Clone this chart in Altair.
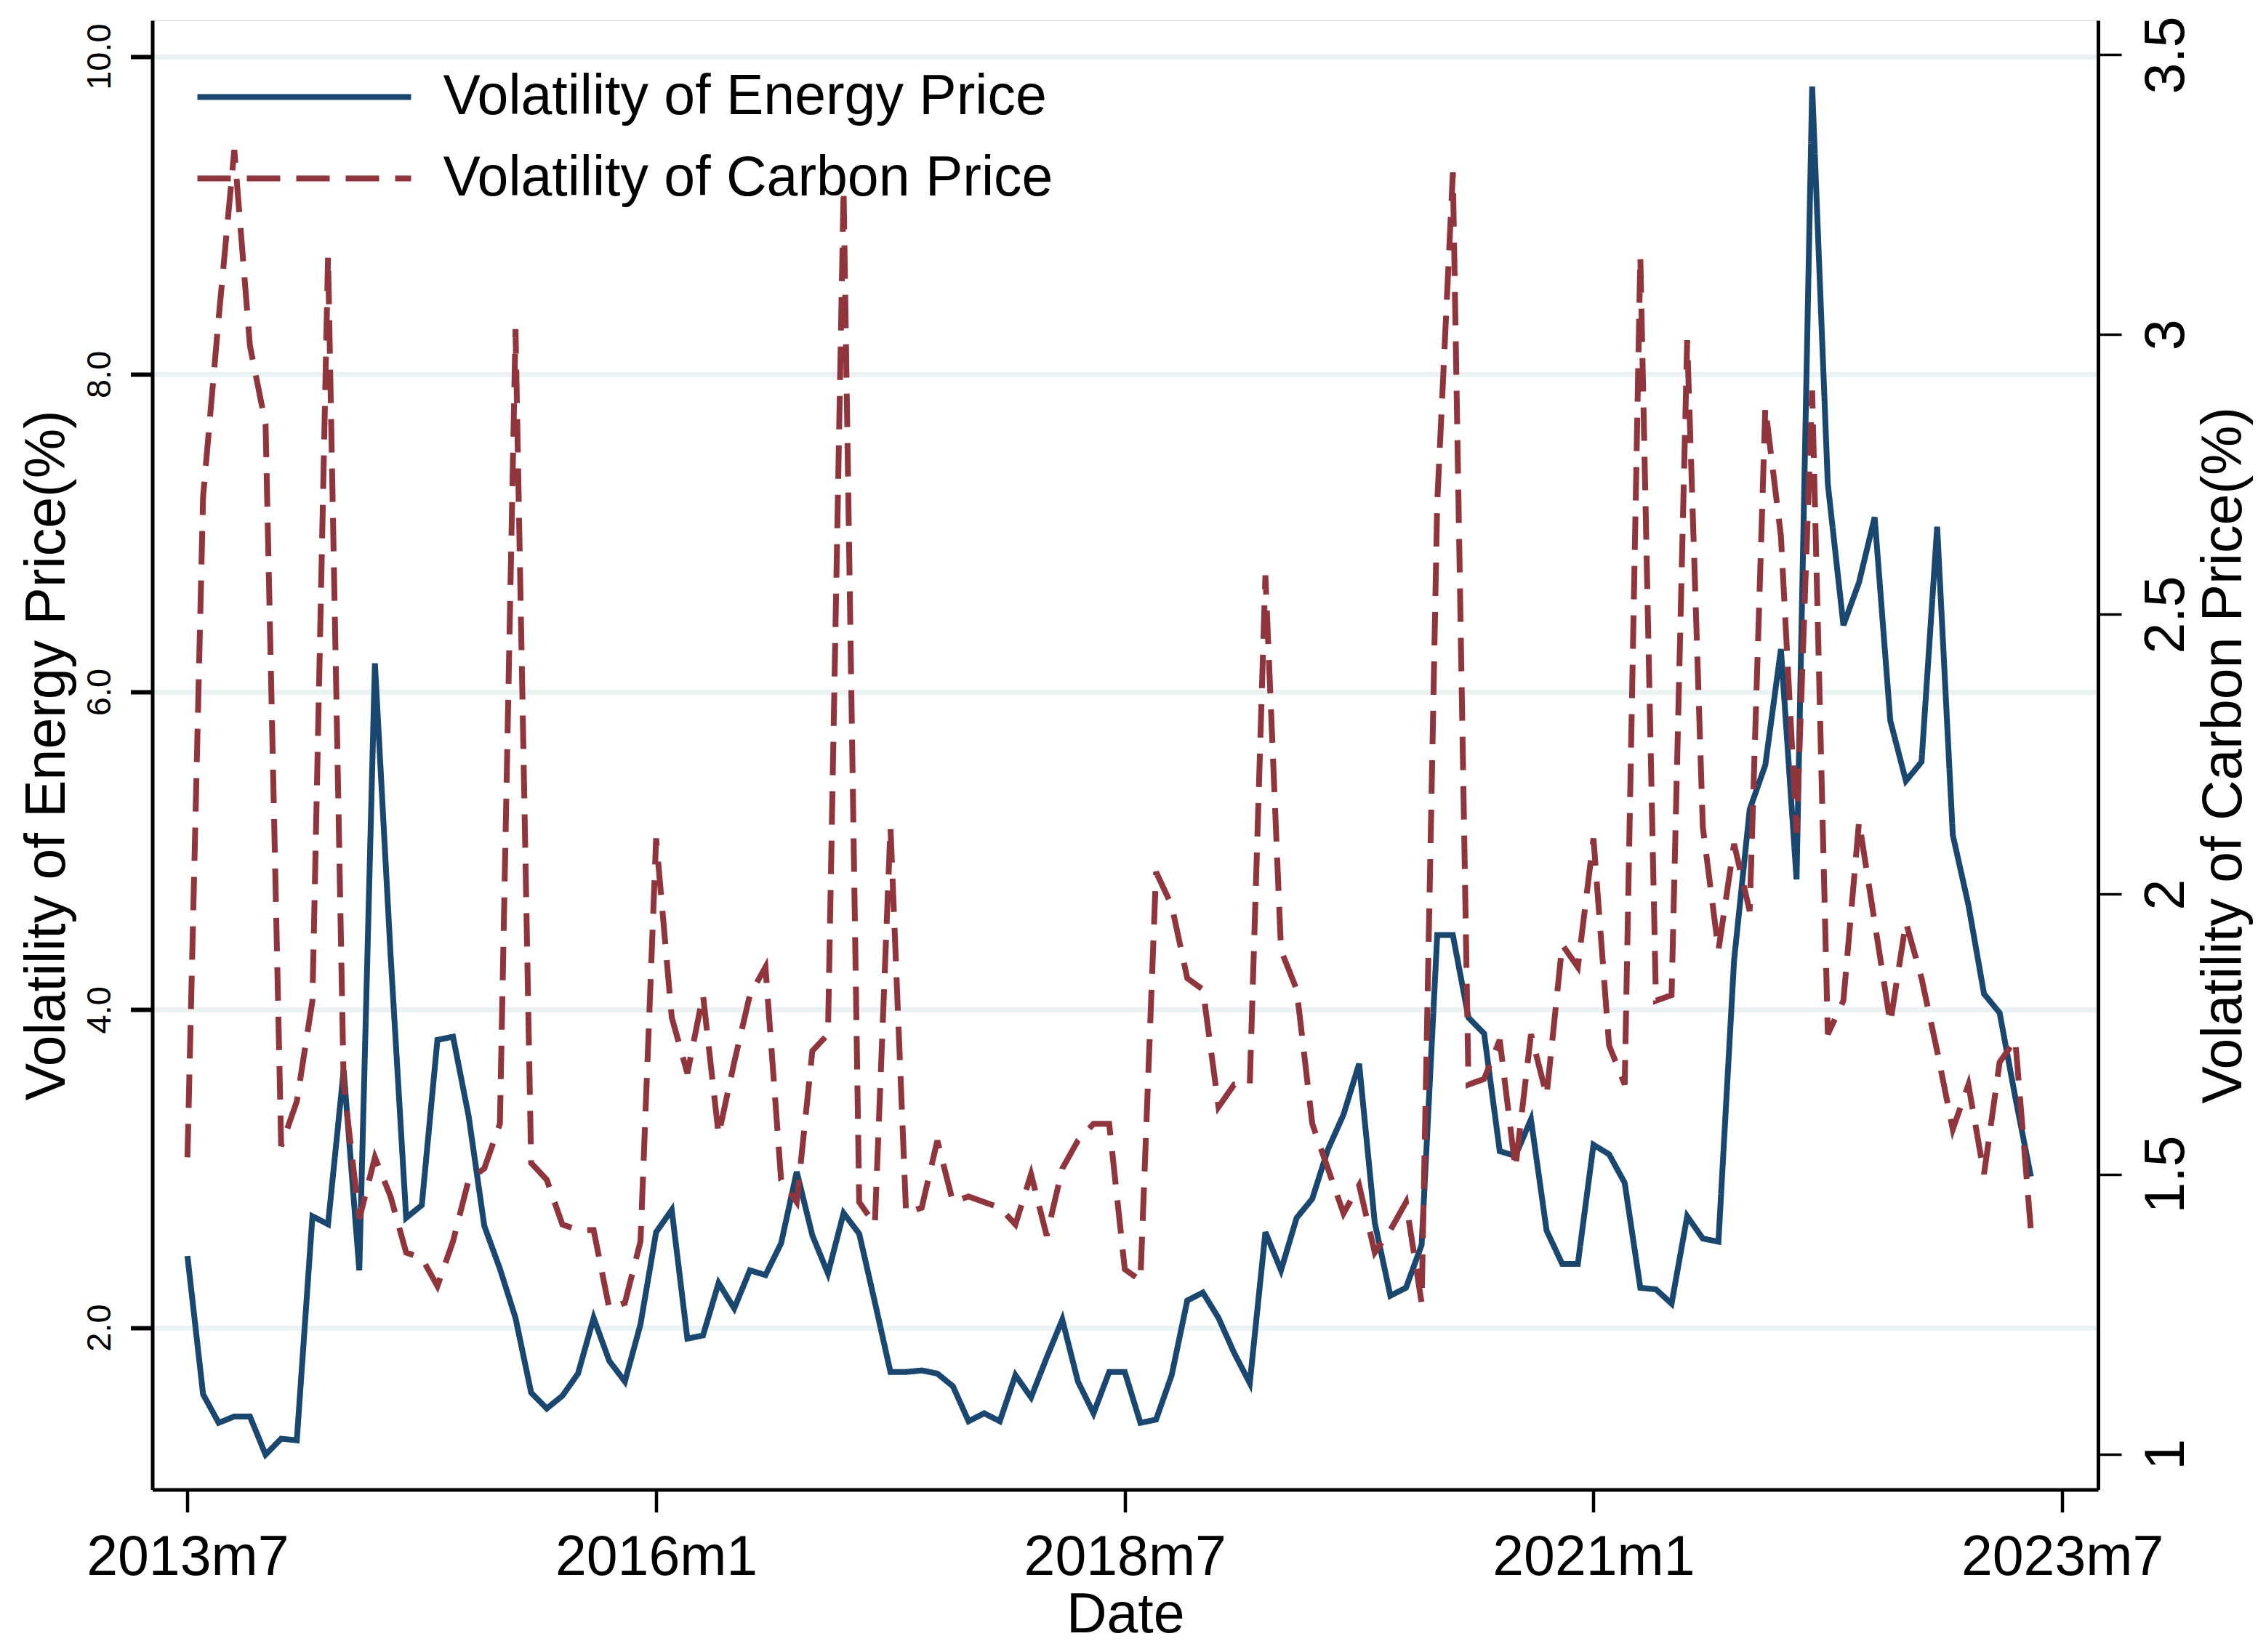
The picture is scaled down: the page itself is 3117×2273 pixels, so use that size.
import altair as alt
import pandas as pd

# Month index 0 = 2013m7 ... 118 = 2023m5
START_YEAR, START_MONTH = 2013, 7

energy = [2.45, 1.58, 1.40, 1.44, 1.44, 1.20, 1.30, 1.29, 2.70, 2.65,
          3.62, 2.36, 6.18, 4.35, 2.69, 2.77, 3.81, 3.83, 3.33, 2.64,
          2.37, 2.06, 1.59, 1.49, 1.57, 1.71, 2.06, 1.79, 1.66, 2.02,
          2.60, 2.74, 1.93, 1.95, 2.28, 2.12, 2.36, 2.33, 2.53, 2.98,
          2.58, 2.34, 2.72, 2.59, 2.16, 1.72, 1.72, 1.73, 1.71, 1.63,
          1.41, 1.46, 1.41, 1.70, 1.56, 1.81, 2.05, 1.66, 1.46, 1.72,
          1.72, 1.40, 1.42, 1.70, 2.17, 2.22, 2.06, 1.84, 1.65, 2.60,
          2.36, 2.69, 2.81, 3.12, 3.34, 3.66, 2.66, 2.20, 2.25, 2.52,
          4.47, 4.47, 3.95, 3.85, 3.11, 3.08, 3.31, 2.61, 2.40, 2.40,
          3.15, 3.09, 2.91, 2.25, 2.24, 2.15, 2.70, 2.56, 2.54, 4.31,
          5.26, 5.54, 6.27, 4.82, 9.81, 7.31, 6.42, 6.69, 7.10, 5.82,
          5.44, 5.56, 7.04, 5.10, 4.66, 4.10, 3.98, 3.45, 2.95]

carbon = [1.53, 2.71, 3.03, 3.33, 2.98, 2.84, 1.55, 1.63, 1.81, 3.14,
          1.66, 1.42, 1.53, 1.46, 1.36, 1.35, 1.30, 1.38, 1.49, 1.51,
          1.59, 3.01, 1.52, 1.49, 1.41, 1.40, 1.40, 1.26, 1.27, 1.38,
          2.10, 1.78, 1.68, 1.82, 1.57, 1.70, 1.82, 1.87, 1.49, 1.45,
          1.72, 1.75, 3.26, 1.45, 1.41, 2.12, 1.43, 1.44, 1.56, 1.45,
          1.46, 1.45, 1.44, 1.41, 1.50, 1.39, 1.51, 1.56, 1.59, 1.59,
          1.33, 1.31, 2.04, 1.98, 1.85, 1.83, 1.62, 1.66, 1.66, 2.57,
          1.90, 1.83, 1.59, 1.51, 1.43, 1.48, 1.36, 1.40, 1.45, 1.27,
          2.70, 3.29, 1.66, 1.67, 1.74, 1.51, 1.75, 1.64, 1.91, 1.87,
          2.10, 1.73, 1.66, 3.14, 1.81, 1.82, 2.99, 2.12, 1.90, 2.09,
          1.97, 2.87, 2.64, 2.11, 2.90, 1.75, 1.81, 2.13, 1.95, 1.77,
          1.95, 1.85, 1.72, 1.58, 1.66, 1.50, 1.70, 1.74, 1.40]

x_ticks = [0, 30, 60, 90, 120]
left_ticks = [2, 4, 6, 8, 10]
right_ticks = [1, 1.5, 2, 2.5, 3, 3.5]

E_NAME = "Volatility of Energy Price"
C_NAME = "Volatility of Carbon Price"


def month_label(i):
    k = START_MONTH - 1 + i
    return f"{START_YEAR + k // 12}m{k % 12 + 1}"


rows = []
for i, v in enumerate(energy):
    rows.append({"m": i, "date": month_label(i), "series": E_NAME, "value": v})
for i, v in enumerate(carbon):
    rows.append({"m": i, "date": month_label(i), "series": C_NAME, "value": v})
df = pd.DataFrame(rows)

FONT = "Liberation Sans"
W, H = 2676.5, 2021.5
LW = 8

legend = alt.Legend(
    title=None, orient="none", legendX=58, legendY=67, direction="vertical",
    symbolType="stroke", symbolSize=294 * 294, symbolStrokeWidth=8,
    labelFontSize=77, labelFont=FONT, labelColor="black", labelOffset=40,
    clipHeight=77, rowPadding=34, padding=0, labelLimit=0,
)

color = alt.Color("series:N",
                  scale=alt.Scale(domain=[E_NAME, C_NAME], range=["#1A476F", "#90353B"]),
                  legend=legend)
dash = alt.StrokeDash("series:N",
                      scale=alt.Scale(domain=[E_NAME, C_NAME], range=[[1, 0], [46, 22]]),
                      legend=legend)

x_enc = alt.X(
    "m:Q",
    scale=alt.Scale(domain=[-2.25, 122.3], nice=False, zero=False),
    axis=alt.Axis(
        values=x_ticks,
        labelExpr="(2013 + floor((datum.value + 6) / 12)) + 'm' + ((datum.value + 6) % 12 + 1)",
        title="Date", titleFontSize=77, titleFont=FONT, titleFontWeight="normal",
        titleColor="black", titleX=W / 2, titleY=195.5, titleAlign="center",
        titleBaseline="alphabetic",
        labelFontSize=77, labelFont=FONT, labelColor="black", labelLimit=0,
        labelBaseline="alphabetic", labelAlign="center", labelPadding=86,
        tickSize=31, tickWidth=4.5, tickColor="black",
        domainWidth=5, domainColor="black", grid=False, labelFlush=False,
        labelOverlap=False,
    ),
)

energy_layer = alt.Chart(df).transform_filter(
    alt.datum.series == E_NAME
).mark_line(strokeWidth=LW).encode(
    x=x_enc,
    y=alt.Y(
        "value:Q",
        scale=alt.Scale(domain=[0.98, 10.227], nice=False, zero=False),
        axis=alt.Axis(
            orient="left", values=left_ticks, format=".1f",
            title="Volatility of Energy Price(%)", titleFontSize=77, titleFont=FONT,
            titleFontWeight="normal", titleColor="black", titleAngle=270,
            titleX=-121.5, titleY=H / 2, titleAlign="center", titleBaseline="alphabetic",
            labelFontSize=47, labelFont=FONT, labelColor="black", labelAngle=270,
            labelAlign="center", labelBaseline="alphabetic", labelPadding=28.5,
            labelLimit=0,
            tickSize=30, tickWidth=6, tickColor="black",
            domainWidth=5, domainColor="black",
            grid=True, gridColor="#EAF2F3", gridWidth=7,
            labelFlush=False, labelOverlap=False,
        ),
    ),
    color=color,
    strokeDash=dash,
    detail="series:N",
)

carbon_layer = alt.Chart(df).transform_filter(
    alt.datum.series == C_NAME
).mark_line(strokeWidth=LW).encode(
    x=x_enc,
    y=alt.Y(
        "value:Q",
        scale=alt.Scale(domain=[0.9364, 3.5616], nice=False, zero=False),
        axis=alt.Axis(
            orient="right", values=right_ticks, format="~g",
            title="Volatility of Carbon Price(%)", titleFontSize=77, titleFont=FONT,
            titleFontWeight="normal", titleColor="black", titleAngle=270,
            titleX=196, titleY=H / 2, titleAlign="center", titleBaseline="alphabetic",
            labelFontSize=77, labelFont=FONT, labelColor="black", labelAngle=270,
            labelAlign="center", labelBaseline="alphabetic", labelPadding=85,
            labelLimit=0,
            tickSize=32, tickWidth=3.5, tickColor="black",
            domainWidth=5, domainColor="black", grid=False,
            labelFlush=False, labelOverlap=False,
        ),
    ),
    color=color,
    strokeDash=dash,
    detail="series:N",
)

chart = alt.layer(energy_layer, carbon_layer).resolve_scale(
    y="independent"
).properties(
    width=W, height=H,
    autosize=alt.AutoSizeParams(type="none"),
    padding={"left": 201.5, "top": 20, "right": 222, "bottom": 215},
    background="white",
).configure_view(stroke=None).configure(font=FONT)

chart.save("out.html", embed_options={"renderer": "svg", "actions": False})
